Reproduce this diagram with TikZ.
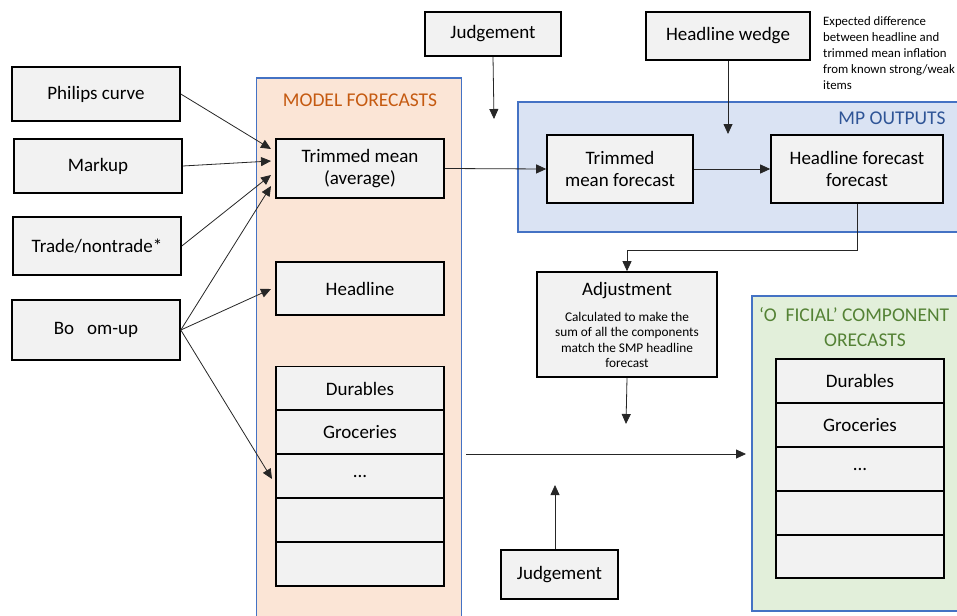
\documentclass[tikz,border=0pt]{standalone}
\usepackage{fontspec}
\setmainfont{Carlito}
\usetikzlibrary{arrows.meta,calc}
\definecolor{boxgray}{HTML}{F2F2F2}
\definecolor{modelfill}{HTML}{FBE5D6}
\definecolor{mpfill}{HTML}{DAE3F3}
\definecolor{offfill}{HTML}{E2EFDA}
\definecolor{panelline}{HTML}{4472C4}
\definecolor{orangetxt}{HTML}{C55A11}
\definecolor{bluetxt}{HTML}{2F5597}
\definecolor{greentxt}{HTML}{548235}
\newcommand\fsmain{\fontsize{19}{22.5}\selectfont}
\newcommand\fshead{\fontsize{19.5}{25}\selectfont}
\newcommand\fssmall{\fontsize{13.3}{15.5}\selectfont}
\newcommand\fsnote{\fontsize{12.8}{16}\selectfont}
\tikzset{
  box/.style={draw=black, line width=1.6pt, fill=boxgray, inner sep=0pt, align=center, font=\fsmain, minimum width=168pt},
  panel/.style={draw=panelline, line width=1.4pt},
  conn/.style={draw=black!85, line width=0.8pt, -{Triangle[length=10pt,width=9pt]}},
}
\begin{document}
\begin{tikzpicture}[x=1pt,y=-1pt]
\useasboundingbox (0,0) rectangle (957,615);
% panels
\path[panel, fill=modelfill] (256.5,78) rectangle (461.5,630);
\path[panel, fill=mpfill] (518,102) rectangle (975,232);
\path[panel, fill=offfill] (752,296) rectangle (975,611);
\node[font=\fshead, text=orangetxt] (mtitle) at (360,100) {MODEL FORECASTS};
\node[font=\fshead, text=bluetxt, anchor=east] (mptitle) at (949,118) {MP OUTPUTS};
\node[font=\fshead, text=greentxt, anchor=west, inner sep=0pt] (offtitle) at (759,315) {‘O\ \ FICIAL’ COMPONENT};
\node[font=\fshead, text=greentxt] (offtitleb) at (865,340) {ORECASTS};
% left inputs
\node[box, minimum height=54pt] (phil) at (96,94) {Philips curve};
\node[box, minimum height=54pt] (markup) at (98,166) {Markup};
\node[box, minimum height=58pt] (trade) at (97,246) {Trade/nontrade*};
\node[box, minimum height=60pt] (bottom) at (96,330) {Bo\ \ \ om-up};
% model forecasts
\node[box, minimum height=59pt] (tm) at (360,168.5) {Trimmed mean\\(average)};
\node[box, minimum height=53pt] (head) at (360,288.5) {Headline};
\node[box, minimum height=44pt] (m1) at (360,388.5) {Durables};
\node[box, minimum height=44pt] (m2) at (360,432) {Groceries};
\node[box, minimum height=44pt] (m3) at (360,476) {...};
\node[box, minimum height=44pt] (m4) at (360,520) {};
\node[box, minimum height=44pt] (m5) at (360,564) {};
% top inputs
\node[box, minimum width=136pt, minimum height=44pt] (judge1) at (493,34) {Judgement};
\node[box, minimum width=164pt, minimum height=48pt] (wedge) at (728,36) {Headline wedge};
\node[font=\fsnote, align=left, anchor=north west, inner sep=0pt] (note) at (823,16) {Expected difference\\between headline and\\trimmed mean inflation\\from known strong/weak\\items};
% MP outputs
\node[box, minimum width=146pt, minimum height=68pt] (tmf) at (620,169) {Trimmed\\mean forecast};
\node[box, minimum width=172pt, minimum height=68pt] (hff) at (857,169) {Headline forecast\\forecast};
% adjustment
\node[box, minimum width=180pt, minimum height=105pt] (adj) at (627,324.5) {};
\node[font=\fsmain] (adjtitle) at (627,291) {Adjustment};
\node[font=\fssmall, align=center] (adjtext) at (627,340) {Calculated to make the\\sum of all the components\\match the SMP headline\\forecast};
% bottom judgement
\node[box, minimum width=117pt, minimum height=49pt] (judge2) at (559.5,574.5) {Judgement};
% official stack
\node[box, minimum height=44pt] (o1) at (860,381) {Durables};
\node[box, minimum height=44pt] (o2) at (860,425) {Groceries};
\node[box, minimum height=44pt] (o3) at (860,469) {...};
\node[box, minimum height=44pt] (o4) at (860,513) {};
\node[box, minimum height=43pt] (o5) at (860,556.5) {};
% coordinates for free ends
\coordinate (t1) at (271,149);
\coordinate (t2) at (271,161);
\coordinate (t3) at (271,175);
\coordinate (t4) at (271,186);
\coordinate (th) at (271,289);
\coordinate (ts) at (272,479);
\coordinate (j1) at (494,119);
\coordinate (w1) at (728,134);
\coordinate (a1) at (626,424);
\coordinate (hs) at (466,454);
\coordinate (he) at (746,454);
\coordinate (j2) at (555,485);
% connectors
\draw[conn] (phil.east) -- (t1);
\draw[conn] (markup.east) -- (t2);
\draw[conn] (trade.east) -- (t3);
\draw[conn] (bottom.east) -- (t4);
\draw[conn] (bottom.east) -- (th);
\draw[conn] (bottom.east) -- (ts);
\draw[conn] (judge1.south) -- (j1);
\draw[conn] (wedge.south) -- (w1);
\draw[conn] (tm.east) -- (tmf.west);
\draw[conn] (tmf.east) -- (hff.west);
\draw[conn] (hff.south) -- ++(0,47) -| (adj.north);
\draw[conn] (adj.south) -- (a1);
\draw[conn] (hs) -- (he);
\draw[conn] (judge2.north -| j2) -- (j2);
\end{tikzpicture}
\end{document}
